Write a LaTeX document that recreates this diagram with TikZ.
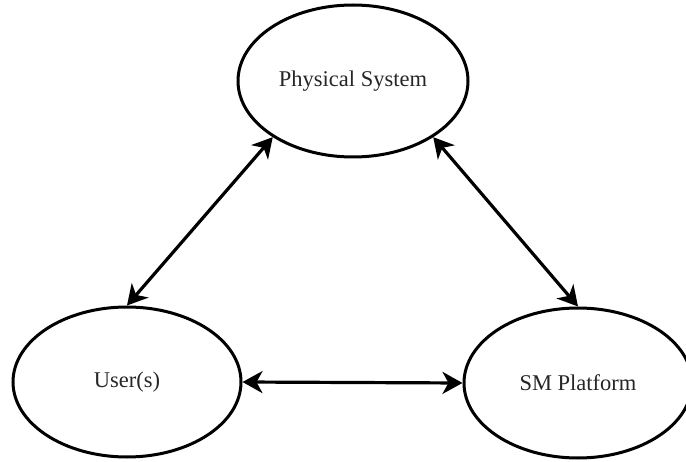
\documentclass[tikz,border=0pt]{standalone}
\usepackage{fontspec}
\setmainfont{Liberation Serif}
\usetikzlibrary{arrows.meta,shapes.geometric}
\begin{document}
\begin{tikzpicture}[x=1pt,y=-1pt,
  bubble/.style={draw=black, line width=3pt, ellipse, minimum width=228pt, minimum height=150pt, inner sep=0pt, text=black!85, font=\fontsize{22.5}{27}\selectfont},
  link/.style={line width=3.2pt, {Stealth[length=20pt,width=22pt,inset=6pt]}-{Stealth[length=20pt,width=22pt,inset=6pt]}}]
\useasboundingbox (0,0) rectangle (686,462);
\node[bubble, minimum width=230pt, minimum height=152pt] (p) at (353,81) {Physical System};
\node[bubble] (u) at (127,382) {User(s)};
\node[bubble] (s) at (578,383) {SM Platform};
\draw[link] (u.90) -- (p.215);
\draw[link] (s.90) -- (p.325);
\draw[link] (u.east) -- (s.west);
\end{tikzpicture}
\end{document}
